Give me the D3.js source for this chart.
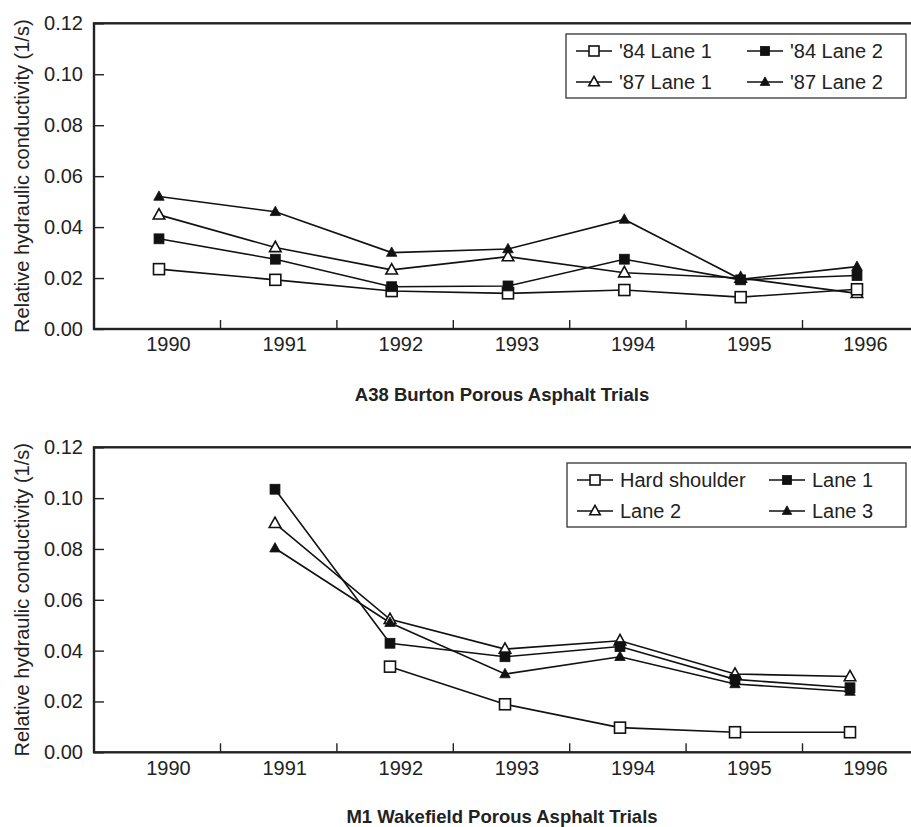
<!DOCTYPE html>
<html><head><meta charset="utf-8">
<script src="https://cdn.jsdelivr.net/npm/d3@7"></script>
<style>
html,body{margin:0;padding:0;background:#fff;}
svg{display:block;font-family:"Liberation Sans",Arial,Helvetica,sans-serif;}
</style></head><body>
<svg id="c" width="911" height="827"></svg>
<script>
const years = [1990, 1991, 1992, 1993, 1994, 1995, 1996];
const yTicks = [0, 0.02, 0.04, 0.06, 0.08, 0.10, 0.12];
const yTitle = "Relative hydraulic conductivity (1/s)";

// A38 Burton
const a38Titles = "A38 Burton Porous Asphalt Trials";
const a38Names = ["'84 Lane 1", "'84 Lane 2", "'87 Lane 1", "'87 Lane 2"];
const a38_84Lane1 = [0.0235, 0.0193, 0.0149, 0.0140, 0.0153, 0.0125, 0.0156];
const a38_84Lane2 = [0.0354, 0.0274, 0.0166, 0.0169, 0.0274, 0.0193, 0.0210];
const a38_87Lane1 = [0.0448, 0.0320, 0.0232, 0.0284, 0.0221, 0.0200, 0.0140];
const a38_87Lane2 = [0.0520, 0.0460, 0.0300, 0.0314, 0.0430, 0.0195, 0.0245];

// M1 Wakefield
const m1Title = "M1 Wakefield Porous Asphalt Trials";
const m1Names = ["Hard shoulder", "Lane 1", "Lane 2", "Lane 3"];
const m1HardShoulder = [null, null, 0.0337, 0.0189, 0.0097, 0.0079, 0.0079];
const m1Lane1 = [null, 0.1035, 0.0429, 0.0376, 0.0416, 0.0287, 0.0254];
const m1Lane2 = [null, 0.0901, 0.0523, 0.0406, 0.0439, 0.0308, 0.0298];
const m1Lane3 = [null, 0.0803, 0.0510, 0.0308, 0.0376, 0.0269, 0.0239];

const markerTypes = ["openSquare", "filledSquare", "openTriangle", "filledTriangle"];

const svg = d3.select("#c");
const font = '"Liberation Sans",Arial,Helvetica,sans-serif';

function drawMarker(g, type, x, y, s) {
  if (type === "openSquare" || type === "filledSquare") {
    const w = type === "openSquare" ? s : s * 0.9;
    g.append("rect").attr("x", x - w / 2).attr("y", y - w / 2).attr("width", w).attr("height", w)
      .attr("fill", type === "openSquare" ? "#fff" : "#111").attr("stroke", "#111")
      .attr("stroke-width", type === "openSquare" ? 1.6 : 0.8);
  } else {
    const w = type === "openTriangle" ? s * 1.05 : s * 0.95;
    const h = w * 0.9;
    const pts = [[x, y - h * 0.6], [x + w / 2, y + h * 0.4], [x - w / 2, y + h * 0.4]];
    g.append("path").attr("d", d3.line()(pts) + "Z")
      .attr("fill", type === "openTriangle" ? "#fff" : "#111").attr("stroke", "#111")
      .attr("stroke-width", type === "openTriangle" ? 1.6 : 0.8).attr("stroke-linejoin", "miter");
  }
}

function panel(opt) {
  const g = svg.append("g");
  const y = d3.scaleLinear().domain([0, 0.12]).range([opt.bottom, opt.top]);
  const xTick = d3.scaleLinear().domain([1990.5, 1995.5]).range([220, 802]);
  const xLab = d3.scaleLinear().domain([1990, 1996]).range([168, 865]);
  const xPt = d3.scaleLinear().domain([1990, 1996]).range(opt.ptRange);
  const left = 94;

  // frame (right edge falls outside the picture)
  g.append("rect").attr("x", left).attr("y", opt.top).attr("width", 860).attr("height", opt.bottom - opt.top)
    .attr("fill", "none").attr("stroke", "#222").attr("stroke-width", 2.4);

  // y axis
  const ya = g.append("g").attr("transform", `translate(${left},0)`)
    .call(d3.axisLeft(y).tickValues(yTicks).tickSize(-10).tickPadding(11).tickFormat(d3.format(".2f")));
  ya.select(".domain").remove();
  ya.selectAll("line").attr("stroke", "#222").attr("stroke-width", 1.4);
  ya.selectAll("text").attr("font-size", 20).attr("font-family", font).attr("fill", "#222");

  // x tick marks between years
  const xa = g.append("g").attr("transform", `translate(0,${opt.bottom})`)
    .call(d3.axisBottom(xTick).tickValues([1990.5, 1991.5, 1992.5, 1993.5, 1994.5, 1995.5]).tickSize(-9).tickFormat(""));
  xa.select(".domain").remove();
  xa.selectAll("line").attr("stroke", "#222").attr("stroke-width", 1.4);

  // x labels
  const xl = g.append("g").attr("transform", `translate(0,${opt.bottom})`)
    .call(d3.axisBottom(xLab).tickValues(years).tickSize(0).tickPadding(opt.labPad).tickFormat(d3.format("d")));
  xl.select(".domain").remove();
  xl.selectAll("text").attr("font-size", 20).attr("font-family", font).attr("fill", "#222");

  // y title
  g.append("text").attr("transform", `translate(29,${(opt.top + opt.bottom) / 2}) rotate(-90)`)
    .attr("text-anchor", "middle").attr("font-size", 20).attr("font-family", font).attr("fill", "#222")
    .text(yTitle);

  // title
  g.append("text").attr("x", 502).attr("y", opt.titleY).attr("text-anchor", "middle")
    .attr("font-size", 18.5).attr("font-weight", "bold").attr("font-family", font).attr("fill", "#222")
    .text(opt.title);

  // lines
  const line = d3.line().defined(d => d.v != null).x(d => xPt(d.yr)).y(d => y(d.v));
  opt.series.forEach((s, i) => {
    const data = years.map((yr, j) => ({ yr, v: s[j] }));
    g.append("path").attr("d", line(data)).attr("fill", "none").attr("stroke", "#111").attr("stroke-width", 1.6);
  });
  // markers (draw order so squares end up on top like the original)
  [2, 3, 0, 1].forEach(i => {
    const s = opt.series[i];
    years.forEach((yr, j) => {
      if (s[j] != null) drawMarker(g, markerTypes[i], xPt(yr), y(s[j]), 11);
    });
  });

  // legend
  const L = opt.legend;
  g.append("rect").attr("x", L.x).attr("y", L.y).attr("width", L.w).attr("height", L.h)
    .attr("fill", "#fff").attr("stroke", "#333").attr("stroke-width", 1.3);
  opt.names.forEach((name, i) => {
    const col = i % 2, row = Math.floor(i / 2);
    const lx = L.cols[col], cy = L.rows[row];
    g.append("line").attr("x1", lx).attr("x2", lx + 36).attr("y1", cy).attr("y2", cy)
      .attr("stroke", "#111").attr("stroke-width", 1.3);
    drawMarker(g, markerTypes[i], lx + 18, cy, 10);
    g.append("text").attr("x", lx + 43).attr("y", cy).attr("dy", "0.35em")
      .attr("font-size", 20).attr("font-family", font).attr("fill", "#222").text(name);
  });
}

panel({
  top: 23.3, bottom: 329, ptRange: [159, 857], labPad: 8, titleY: 401,
  title: a38Titles, names: a38Names,
  series: [a38_84Lane1, a38_84Lane2, a38_87Lane1, a38_87Lane2],
  legend: { x: 566, y: 34, w: 340, h: 64, cols: [576, 747], rows: [51, 82] }
});
panel({
  top: 447.3, bottom: 752.3, ptRange: [160, 850], labPad: 9, titleY: 823,
  title: m1Title, names: m1Names,
  series: [m1HardShoulder, m1Lane1, m1Lane2, m1Lane3],
  legend: { x: 567, y: 463, w: 339, h: 64, cols: [577, 769], rows: [480, 511] }
});
</script>
</body></html>
